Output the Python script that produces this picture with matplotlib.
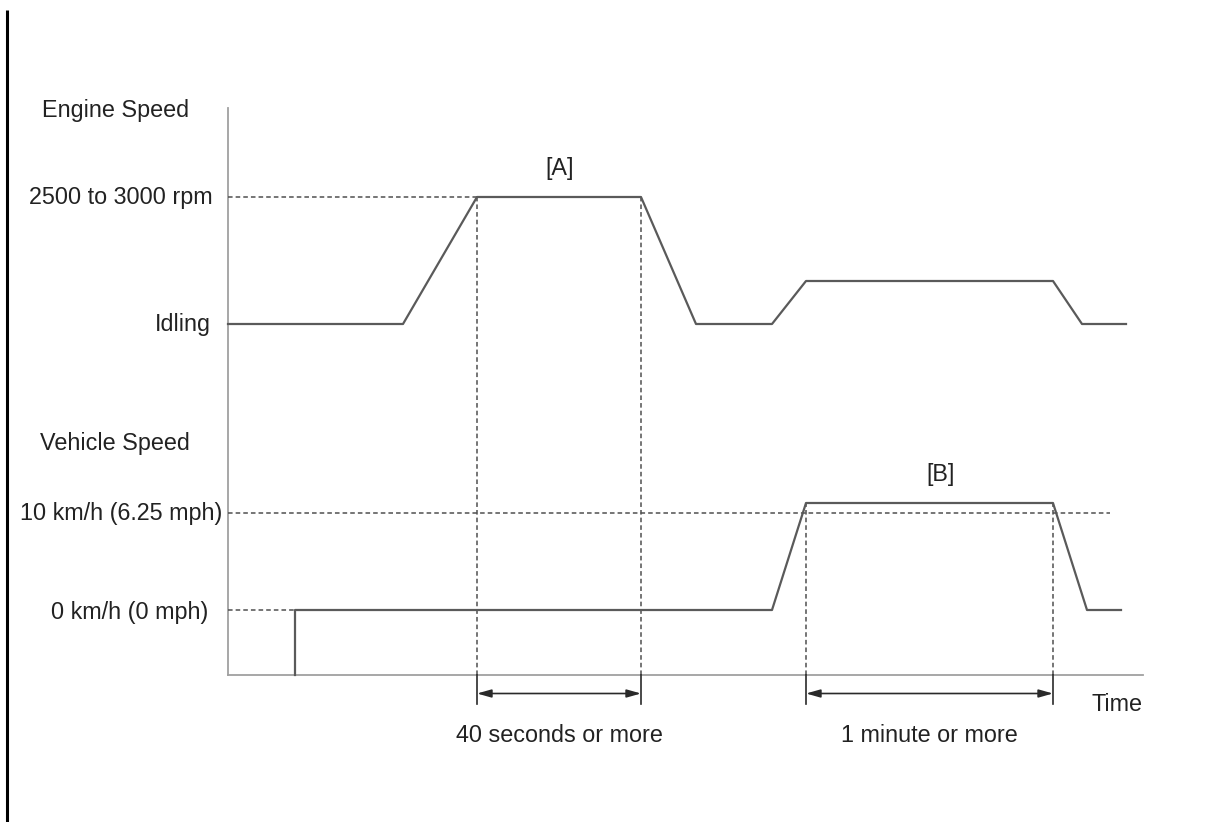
import matplotlib
matplotlib.use('Agg')
import matplotlib.pyplot as plt

plt.rcParams['font.family'] = ['Liberation Sans', 'DejaVu Sans']

# signal levels (arbitrary vertical units, 0 = time axis)
IDLE, HIGH, MID = 35.1, 47.8, 39.4
V0, V10, V10_REF = 6.5, 17.2, 16.2
AXIS_TOP = 56.7
AXIS_END = 91.5

# engine speed trace
t_engine = [0, 17.5, 24.9, 41.3, 46.8, 54.4, 57.8, 82.5, 85.4, 89.8]
engine_lvl = [IDLE, IDLE, HIGH, HIGH, IDLE, IDLE, MID, MID, IDLE, IDLE]

# vehicle speed trace
t_vehicle = [6.7, 6.7, 54.4, 57.8, 82.5, 85.9, 89.3]
vehicle_lvl = [0, V0, V0, V10, V10, V0, V0]

# timing windows
win_a = (24.9, 41.3)
win_b = (57.8, 82.5)
ref_10kmh_end = 88.2

y_labels = ['2500 to 3000 rpm', 'Idling', '10 km/h (6.25 mph)', '0 km/h (0 mph)']

SIG = '#5a5a5a'
AX = '#a0a0a0'
DASH = '#505050'
DARK = '#2a2a2a'
TXT = '#222222'
FS = 16.8
dash = (0, (3, 2))

fig = plt.figure(figsize=(12.13, 8.22), dpi=100)
ax = fig.add_axes([0, 0, 1, 1])
ax.set_xlim(-22.8, 98.5)
ax.set_ylim(-14.7, 67.5)
ax.axis('off')

# page border on the left
ax.plot([-22.15, -22.15], [-14.7, 66.5], color='black', lw=2.2, solid_capstyle='butt')

# axes
ax.plot([0, 0], [0, AXIS_TOP], color=AX, lw=1.3)
ax.plot([0, AXIS_END], [0, 0], color=AX, lw=1.3)

# reference dashed lines
ax.plot([0, win_a[0]], [HIGH, HIGH], color=DASH, lw=1.1, ls=dash)
ax.plot([0, ref_10kmh_end], [V10_REF, V10_REF], color=DASH, lw=1.1, ls=dash)
ax.plot([0, t_vehicle[0]], [V0, V0], color=DASH, lw=1.1, ls=dash)
for t in win_a:
    ax.plot([t, t], [0, HIGH], color=DASH, lw=1.1, ls=dash)
for t in win_b:
    ax.plot([t, t], [0, V10], color=DASH, lw=1.1, ls=dash)

# signal traces
ax.plot(t_engine, engine_lvl, color=SIG, lw=1.6)
ax.plot(t_vehicle, vehicle_lvl, color=SIG, lw=1.6)

# duration arrows
for (t1, t2), label in [(win_a, '40 seconds or more'), (win_b, '1 minute or more')]:
    for t in (t1, t2):
        ax.plot([t, t], [0, -2.9], color=DARK, lw=1.2)
    ax.annotate('', xy=(t2, -1.85), xytext=(t1, -1.85),
                arrowprops=dict(arrowstyle='<|-|>,head_length=0.85,head_width=0.24',
                                color=DARK, lw=1.2,
                                mutation_scale=10, shrinkA=0, shrinkB=0))
    ax.text((t1 + t2) / 2, -6.0, label, fontsize=FS, ha='center', va='center', color=TXT)

# labels
ax.text(-18.6, 56.5, 'Engine Speed', fontsize=FS, ha='left', va='center', color=TXT)
ax.text(-18.8, 23.2, 'Vehicle Speed', fontsize=FS, ha='left', va='center', color=TXT)
ax.text(-1.5, HIGH, y_labels[0], fontsize=FS, ha='right', va='center', color=TXT)
ax.text(-1.7, IDLE, y_labels[1], fontsize=FS, ha='right', va='center', color=TXT)
ax.text(-0.6, V10_REF, y_labels[2], fontsize=FS, ha='right', va='center', color=TXT)
ax.text(-2.0, 6.3, y_labels[3], fontsize=FS, ha='right', va='center', color=TXT)
ax.text(33.2, 50.7, '[A]', fontsize=FS, ha='center', va='center', color=TXT)
ax.text(71.3, 20.1, '[B]', fontsize=FS, ha='center', va='center', color=TXT)
ax.text(88.9, -2.9, 'Time', fontsize=FS, ha='center', va='center', color=TXT)

fig.savefig('out.png', dpi=100)
